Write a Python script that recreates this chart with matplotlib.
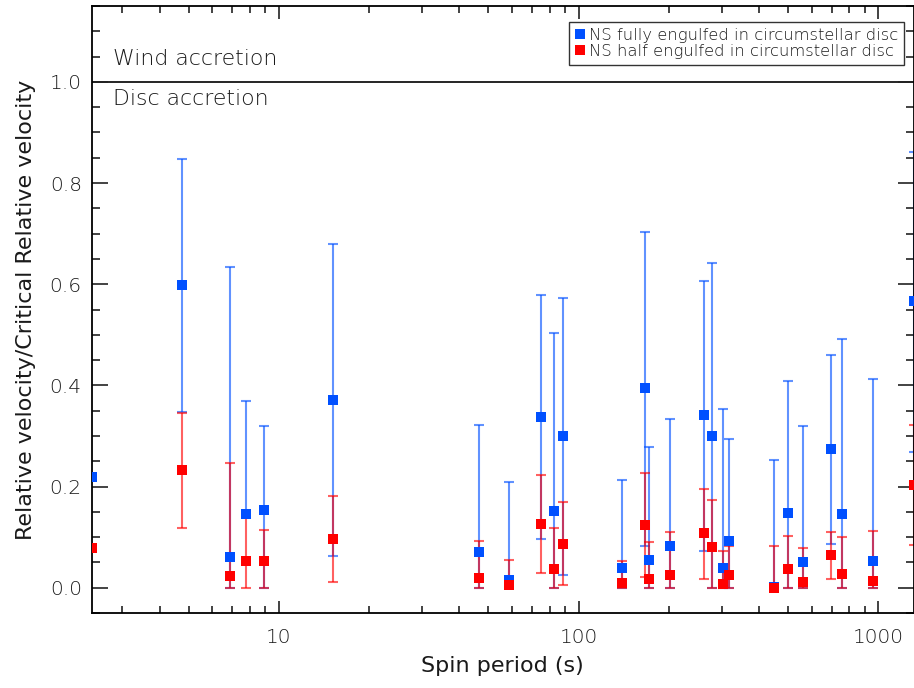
import matplotlib
matplotlib.use("Agg")
import matplotlib.pyplot as plt
import numpy as np
from matplotlib.ticker import LogLocator, FixedLocator, MultipleLocator, NullFormatter
from matplotlib.lines import Line2D

# Spin periods (s)
period = [2.37, 4.75, 6.87, 7.76, 8.91, 15.2, 46.4, 58.7, 74.7, 82.6, 88.4,
          140, 167, 171, 201, 261, 279, 303, 318, 450, 501, 562, 692, 753, 962, 1309]

# NS fully engulfed (blue)
full_val = [0.218, 0.598, 0.060, 0.146, 0.154, 0.371, 0.070, 0.016, 0.337, 0.151, 0.300,
            0.038, 0.394, 0.054, 0.082, 0.341, 0.300, 0.038, 0.092, 0.002, 0.147, 0.050,
            0.274, 0.145, 0.052, 0.566]
full_hi = [0.218, 0.848, 0.635, 0.369, 0.319, 0.679, 0.321, 0.209, 0.578, 0.504, 0.572,
           0.212, 0.703, 0.279, 0.333, 0.607, 0.642, 0.354, 0.293, 0.253, 0.408, 0.319,
           0.461, 0.491, 0.412, 0.861]
full_lo = [0.218, 0.348, 0.000, 0.140, 0.000, 0.063, 0.000, 0.000, 0.096, 0.000, 0.026,
           0.000, 0.083, 0.000, 0.000, 0.073, 0.000, 0.000, 0.000, 0.000, 0.000, 0.000,
           0.087, 0.000, 0.000, 0.268]

# NS half engulfed (red)
half_val = [0.078, 0.232, 0.024, 0.053, 0.053, 0.097, 0.020, 0.005, 0.125, 0.037, 0.087,
            0.009, 0.123, 0.018, 0.026, 0.108, 0.080, 0.008, 0.025, 0.000, 0.036, 0.012,
            0.064, 0.028, 0.014, 0.203]
half_hi = [0.078, 0.346, 0.246, 0.140, 0.115, 0.181, 0.092, 0.055, 0.222, 0.119, 0.170,
           0.052, 0.226, 0.091, 0.110, 0.195, 0.173, 0.073, 0.082, 0.082, 0.102, 0.078,
           0.110, 0.100, 0.113, 0.322]
half_lo = [0.078, 0.118, 0.000, 0.000, 0.000, 0.012, 0.000, 0.000, 0.030, 0.000, 0.005,
           0.000, 0.021, 0.000, 0.000, 0.018, 0.000, 0.000, 0.000, 0.000, 0.000, 0.000,
           0.017, 0.000, 0.000, 0.085]

legend_labels = ["NS fully engulfed in circumstellar disc",
                 "NS half engulfed in circumstellar disc"]
xtick_vals = [10, 100, 1000]
xtick_labels = ["10", "100", "1000"]
ytick_vals = [0.0, 0.2, 0.4, 0.6, 0.8, 1.0]

plt.rcParams['font.family'] = ['DejaVu Sans']
plt.rcParams['font.weight'] = 'light'

BLUE = '#0050ff'
RED = '#ff0000'
TXT = '#1a1a1a'

fig = plt.figure(figsize=(9.14, 6.88), dpi=100)
ax = fig.add_axes([91.5/914, 1-613/688, (913.5-91.5)/914, (613-6)/688])

p = np.array(period)
for val, hi, lo, col in [(full_val, full_hi, full_lo, BLUE), (half_val, half_hi, half_lo, RED)]:
    v = np.array(val); h = np.array(hi); l = np.array(lo)
    yerr = np.vstack([v - l, h - v])
    ax.errorbar(p, v, yerr=yerr, fmt='none', ecolor=col, elinewidth=1.5,
                capsize=3.8, capthick=1.5, alpha=0.62, zorder=2, clip_on=True)
    ax.plot(p, v, 's', color=col, markersize=7.3, markeredgewidth=0, zorder=3, clip_on=True)

ax.set_xscale('log')
ax.set_xlim(min(period), max(period))
ax.set_ylim(-0.05, 1.15)
ax.axhline(1.0, color='black', lw=1.2, zorder=1)

ax.text(0.026, 1.046, "Wind accretion", transform=ax.get_yaxis_transform(),
        fontsize=15.8, va='center', ha='left', color=TXT)
ax.text(0.026, 0.966, "Disc accretion", transform=ax.get_yaxis_transform(),
        fontsize=15.8, va='center', ha='left', color=TXT)

ax.xaxis.set_major_locator(FixedLocator(xtick_vals))
ax.set_xticklabels(xtick_labels)
ax.xaxis.set_minor_locator(LogLocator(base=10, subs=np.arange(2, 10)))
ax.xaxis.set_minor_formatter(NullFormatter())
ax.set_yticks(ytick_vals)
ax.set_yticklabels([f"{t:.1f}" for t in ytick_vals])
ax.yaxis.set_minor_locator(MultipleLocator(0.05))

ax.tick_params(which='both', direction='in', top=True, right=True, labelsize=14.5,
               width=1.2, color='#222222', labelcolor=TXT)
ax.tick_params(which='major', length=11.5)
ax.tick_params(which='minor', length=5.8)
ax.tick_params(axis='x', which='major', length=9, pad=11)
ax.tick_params(axis='x', which='minor', length=5)
ax.tick_params(axis='y', which='major', pad=7)
for s in ax.spines.values():
    s.set_linewidth(1.3)

ax.set_xlabel("Spin period (s)", fontsize=16, labelpad=6, color=TXT)
ax.set_ylabel("Relative velocity/Critical Relative velocity", fontsize=16, labelpad=9.5, color=TXT)

handles = [Line2D([], [], marker='s', ls='none', color=BLUE, markersize=6.5, markeredgewidth=0),
           Line2D([], [], marker='s', ls='none', color=RED, markersize=6.5, markeredgewidth=0)]
leg = ax.legend(handles, legend_labels, loc='upper right', bbox_to_anchor=(0.989, 0.974),
                fontsize=11.8, frameon=True, fancybox=False, edgecolor='black',
                handlelength=0.6, handletextpad=0.3, borderpad=0.35, labelspacing=0.1,
                borderaxespad=0)
leg.get_frame().set_linewidth(1.0)
for t in leg.get_texts():
    t.set_color(TXT)

fig.savefig("out.png", dpi=100)
